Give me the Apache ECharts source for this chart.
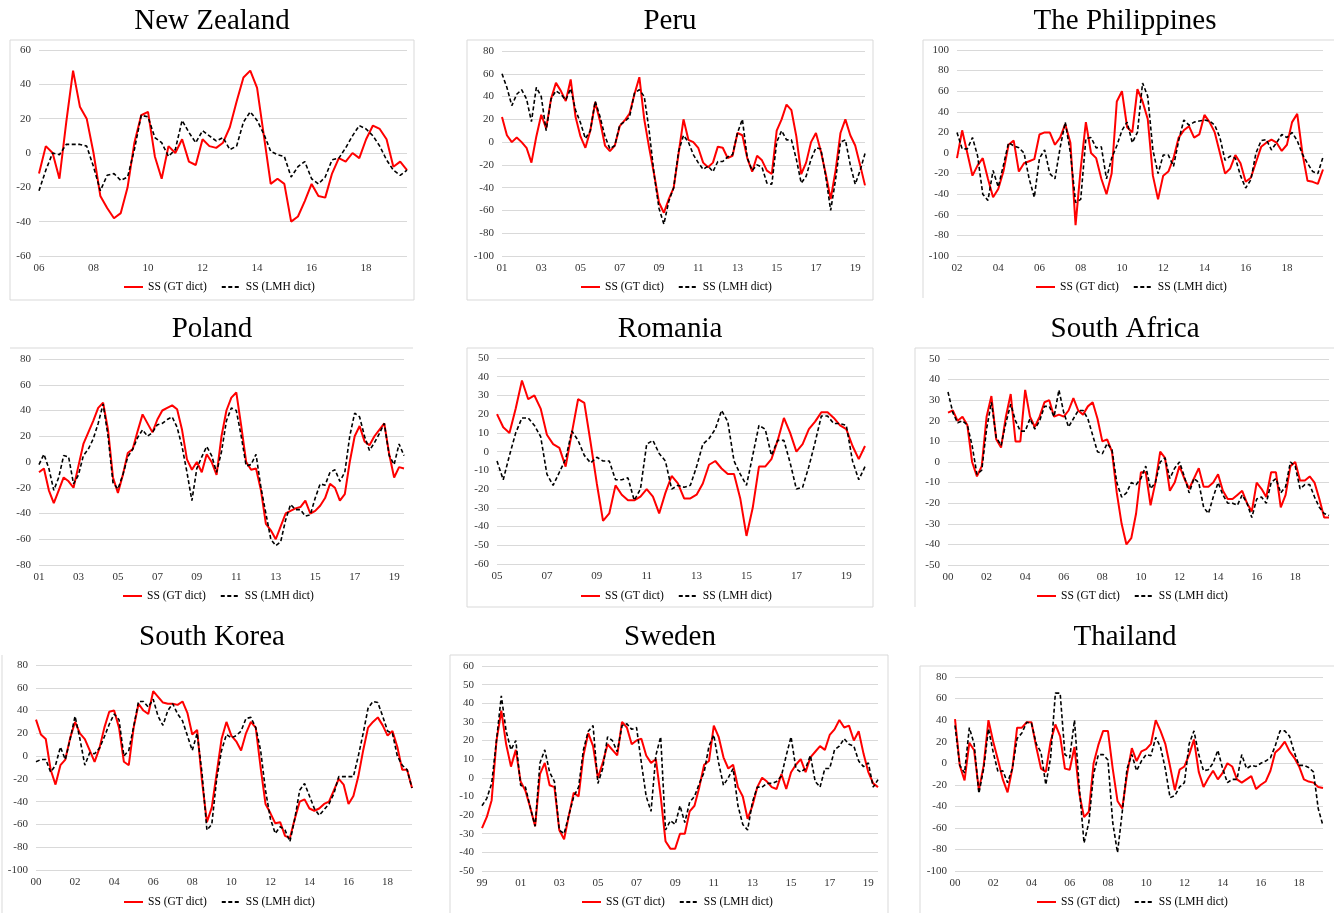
<!DOCTYPE html>
<html>
<head>
<meta charset="utf-8">
<title>SS (GT dict) vs SS (LMH dict)</title>
<script src="https://cdn.jsdelivr.net/npm/echarts/dist/echarts.min.js"></script>
<style>
  html, body { margin: 0; padding: 0; background: #fff; }
  #chart { width: 1334px; height: 913px; }
</style>
</head>
<body>
<div id="chart"></div>
<script>
// quarterly readings, first value is Q1 of the start year
const seriesNames = ['SS (GT dict)', 'SS (LMH dict)'];

const nzStart = 2006;
const nzGT = [-12, 4, 0, -15, 18, 48, 27, 20, 0, -25, -32, -38, -35, -20, 6, 22, 24, -2, -15, 4,
  0, 8, -5, -7, 8, 4, 3, 6, 15, 30, 44, 48, 38, 10, -18, -15, -18, -40, -37, -28,
  -18, -25, -26, -12, -3, -5, 0, -3, 8, 16, 14, 8, -8, -5, -10];
const nzLMH = [-22, -10, 0, -1, 5, 5, 5, 4, -8, -22, -13, -12, -16, -14, 2, 22, 21, 9, 6, -2,
  2, 19, 12, 6, 13, 10, 7, 9, 2, 4, 18, 24, 19, 11, 1, -1, -2, -14, -8, -5,
  -15, -18, -14, -4, -3, 3, 10, 16, 14, 10, 4, -4, -10, -13, -10];
const nzY = [-60, 60, 20];

const peStart = 2001;
const peGT = [22, 6, 0, 4, 0, -5, -18, 5, 24, 12, 38, 52, 45, 36, 55, 22, 5, -5, 10, 35,
  18, -3, -8, -3, 14, 19, 25, 42, 57, 20, -5, -28, -53, -62, -50, -40, -10, 20, 2, 0,
  -5, -18, -22, -18, -4, -5, -14, -12, 8, 6, -14, -26, -12, -16, -25, -28, 10, 20, 33, 28,
  5, -28, -18, 0, 8, -8, -28, -50, -25, 8, 20, 6, -3, -20, -38];
const peLMH = [60, 48, 32, 42, 46, 38, 18, 48, 40, 10, 38, 45, 42, 37, 47, 28, 17, 3, 10, 36,
  22, 5, -6, -3, 15, 18, 22, 43, 46, 40, 10, -28, -58, -72, -52, -40, -8, 6, 0, -11,
  -18, -24, -21, -26, -17, -17, -13, -11, 8, 20, -14, -25, -20, -22, -36, -37, 0, 10, 2, 2,
  -15, -36, -30, -15, -5, -6, -30, -60, -33, 0, 2, -20, -37, -25, -10];
const peY = [-100, 80, 20];

const phStart = 2002;
const phGT = [-5, 22, 0, -22, -12, -5, -25, -43, -35, -18, 8, 12, -18, -10, -8, -6, 18, 20, 20, 8,
  15, 28, 10, -70, -15, 30, 0, -5, -25, -40, -20, 50, 60, 25, 20, 62, 50, 33, -22, -45,
  -22, -18, -5, 15, 22, 26, 15, 18, 37, 30, 20, 0, -20, -15, -2, -10, -28, -24, -9, 6,
  10, 13, 10, 2, 8, 30, 38, 0, -27, -28, -30, -16];
const phLMH = [20, 4, 4, 15, -3, -40, -46, -17, -33, -12, 10, 7, 5, 0, -25, -43, -5, 3, -20, -25,
  5, 30, 0, -48, -45, 14, 15, 5, 6, -25, -5, 7, 22, 30, 10, 20, 68, 55, 3, -20,
  -2, -2, -13, 12, 32, 27, 30, 31, 32, 31, 27, 15, -7, -3, -5, -22, -34, -26, 0, 12,
  13, 3, 10, 18, 15, 20, 12, -1, -10, -18, -20, -4];
const phY = [-100, 100, 20];

const plStart = 2001;
const plGT = [-8, -5, -22, -32, -22, -12, -15, -20, -3, 14, 23, 32, 42, 46, 25, -12, -24, -10, 7, 10,
  24, 37, 30, 23, 33, 40, 42, 44, 41, 25, 2, -6, 0, -8, 6, 0, -10, 20, 40, 50,
  54, 28, 0, -6, -5, -22, -48, -53, -60, -50, -40, -38, -36, -35, -30, -40, -38, -34, -28, -17,
  -20, -30, -25, 0, 20, 28, 16, 13, 20, 25, 30, 6, -12, -4, -5];
const plLMH = [-2, 6, -5, -22, -12, 5, 4, -17, -10, 5, 10, 18, 30, 45, 20, -16, -21, -10, 4, 10,
  19, 25, 20, 23, 29, 30, 33, 35, 27, 12, -8, -30, -5, 4, 12, 5, -8, 8, 32, 42,
  40, 20, -3, -2, 6, -20, -40, -60, -65, -62, -45, -33, -37, -37, -42, -41, -28, -17, -18, -8,
  -6, -15, -8, 20, 38, 35, 20, 9, 15, 22, 30, 5, -2, 14, 5];
const plY = [-80, 80, 20];

const roStart = 2005;
const roGT = [20, 13, 10, 23, 38, 28, 30, 23, 9, 4, 2, -8, 10, 28, 26, 5, -17, -37, -33, -18,
  -23, -26, -26, -24, -20, -24, -33, -22, -13, -17, -25, -25, -23, -17, -7, -5, -9, -12, -12, -25,
  -45, -30, -8, -8, -4, 6, 18, 10, 0, 4, 12, 16, 21, 21, 18, 14, 12, 3, -4, 3];
const roLMH = [-5, -15, -2, 10, 18, 18, 14, 8, -12, -18, -11, -4, 11, 6, -2, -6, -3, -5, -5, -15,
  -15, -14, -26, -20, 4, 6, -1, -5, -20, -18, -19, -18, -8, 4, 7, 12, 22, 16, -5, -12,
  -18, -2, 14, 12, -2, 6, 6, -6, -20, -19, -8, 5, 19, 19, 15, 15, 14, -5, -15, -8];
const roY = [-60, 50, 10];

const zaStart = 2000;
const zaGT = [24, 25, 20, 22, 18, 0, -7, -2, 22, 32, 11, 7, 22, 33, 10, 10, 35, 22, 17, 22,
  29, 30, 22, 23, 22, 25, 31, 25, 23, 27, 29, 21, 10, 11, 5, -15, -30, -40, -37, -25,
  -5, -5, -21, -10, 5, 2, -14, -10, -2, -8, -13, -8, -3, -12, -12, -10, -6, -14, -18, -18,
  -16, -14, -20, -24, -10, -13, -17, -5, -5, -22, -16, -2, 0, -9, -9, -7, -10, -18, -27, -27];
const zaLMH = [34, 24, 19, 20, 18, 8, -6, -4, 16, 29, 12, 8, 19, 28, 20, 15, 15, 21, 16, 20,
  27, 27, 22, 35, 24, 17, 21, 25, 25, 21, 13, 5, 4, 9, 6, -10, -17, -15, -10, -11,
  -8, -2, -13, -10, 0, 2, -8, -3, 0, -7, -15, -8, -10, -22, -25, -17, -10, -16, -20, -20,
  -21, -16, -20, -27, -18, -17, -20, -10, -8, -15, -12, 0, -2, -13, -11, -11, -17, -22, -25, -26];
const zaY = [-50, 50, 10];

const krStart = 2000;
const krGT = [32, 19, 15, -12, -25, -8, -3, 16, 30, 20, 15, 5, -5, 7, 25, 39, 40, 25, -5, -8,
  25, 46, 40, 37, 57, 52, 47, 46, 46, 45, 48, 38, 19, 23, -22, -58, -45, -15, 15, 30,
  18, 13, 5, 20, 30, 25, -10, -42, -50, -59, -58, -70, -72, -55, -40, -38, -46, -48, -46, -42,
  -40, -30, -20, -25, -42, -35, -18, 5, 25, 30, 34, 27, 18, 22, 8, -12, -12, -28];
const krLMH = [-5, -3, -3, -14, -8, 8, -3, 15, 35, 15, -8, 3, 2, 7, 17, 28, 37, 32, 0, 5,
  26, 48, 48, 43, 50, 35, 27, 40, 46, 37, 31, 18, 5, 20, -15, -65, -60, -20, 5, 19,
  16, 18, 22, 33, 34, 25, 5, -30, -55, -68, -62, -65, -75, -55, -30, -24, -35, -46, -52, -47,
  -42, -33, -18, -18, -18, -18, 0, 20, 42, 48, 47, 35, 22, 20, 0, -8, -12, -28];
const krY = [-100, 80, 20];

const seStart = 1999;
const seGT = [-27, -21, -12, 20, 36, 18, 6, 15, -2, -7, -16, -26, 2, 8, -4, -5, -28, -33, -20, -8,
  -10, 12, 24, 17, 0, 8, 18, 15, 12, 30, 27, 18, 20, 21, 12, 8, 10, -10, -34, -38,
  -38, -30, -30, -18, -15, -5, 7, 9, 28, 22, 11, 5, 7, -5, -10, -22, -15, -5, 0, -2,
  -5, -6, 2, -6, 3, 7, 10, 3, 11, 14, 17, 15, 23, 26, 31, 27, 28, 20, 25, 13,
  3, -3, -5];
const seLMH = [-15, -11, -3, 20, 44, 25, 15, 20, -4, -5, -16, -26, 8, 15, 3, -2, -28, -30, -20, -10,
  -5, 15, 25, 28, -3, 5, 22, 20, 14, 28, 29, 26, 27, 8, -10, -18, 12, 22, -28, -23,
  -25, -15, -24, -13, -10, -3, 3, 17, 23, 8, -4, 0, 5, -15, -25, -28, -13, -5, -5, -3,
  -3, -2, 1, 12, 22, 5, 3, 5, 12, -2, -5, 5, 5, 15, 17, 21, 18, 17, 9, 6,
  8, -5, -1];
const seY = [-50, 60, 10];

const thStart = 2000;
const thGT = [41, -2, -16, 19, 12, -25, -2, 40, 20, 3, -15, -27, -5, 33, 33, 38, 38, 15, -5, -8,
  20, 36, 25, -5, -6, 15, -28, -50, -45, 0, 17, 30, 30, -5, -35, -42, -10, 14, 2, 11,
  13, 18, 40, 30, 18, -3, -25, -6, -3, 8, 22, -8, -22, -14, -7, -15, -9, 0, -3, -15,
  -18, -15, -12, -24, -20, -17, -7, 10, 14, 20, 11, 5, -3, -15, -17, -18, -22, -23];
const thLMH = [35, -2, -9, 33, 18, -28, -5, 32, 10, -8, -7, -18, -5, 23, 28, 38, 37, 18, 10, -20,
  5, 65, 65, 8, 5, 40, -22, -74, -55, -10, 8, 8, 3, -55, -83, -45, -5, 8, -7, 2,
  8, 7, 24, 15, -5, -32, -30, -22, -18, 18, 30, 8, -7, -6, 0, 12, -5, -18, -15, -15,
  8, -5, -2, -3, 0, 2, 5, 16, 30, 30, 25, 10, -2, -2, -4, -8, -42, -58];
const thY = [-100, 80, 20];

// layout: grid [left, top, width, height], title centre x / top, legend left / top
const panels = [
  { name: 'New Zealand', start: nzStart, gt: nzGT, lmh: nzLMH, y: nzY, grid: [39, 50, 368, 206], tx: 212, ty: 7, lx: 123, ly: 281 },
  { name: 'Peru', start: peStart, gt: peGT, lmh: peLMH, y: peY, grid: [502, 51, 363, 205], tx: 670, ty: 7, lx: 580, ly: 281 },
  { name: 'The Philippines', start: phStart, gt: phGT, lmh: phLMH, y: phY, grid: [957, 50, 366, 206], tx: 1125, ty: 7, lx: 1035, ly: 281 },
  { name: 'Poland', start: plStart, gt: plGT, lmh: plLMH, y: plY, grid: [39, 359, 365, 206], tx: 212, ty: 315, lx: 122, ly: 590 },
  { name: 'Romania', start: roStart, gt: roGT, lmh: roLMH, y: roY, grid: [497, 358, 368, 206], tx: 670, ty: 315, lx: 580, ly: 590 },
  { name: 'South Africa', start: zaStart, gt: zaGT, lmh: zaLMH, y: zaY, grid: [948, 359, 381, 206], tx: 1125, ty: 315, lx: 1036, ly: 590 },
  { name: 'South Korea', start: krStart, gt: krGT, lmh: krLMH, y: krY, grid: [36, 665, 376, 205], tx: 212, ty: 623, lx: 123, ly: 896 },
  { name: 'Sweden', start: seStart, gt: seGT, lmh: seLMH, y: seY, grid: [482, 666, 396, 205], tx: 670, ty: 623, lx: 581, ly: 896 },
  { name: 'Thailand', start: thStart, gt: thGT, lmh: thLMH, y: thY, grid: [955, 677, 368, 194], tx: 1125, ty: 623, lx: 1036, ly: 896 }
];

// light frames left over from the original chart boxes
const frames = [
  [[10, 300], [10, 40], [414, 40], [414, 300], [10, 300]],
  [[467, 300], [467, 40], [873, 40], [873, 300], [467, 300]],
  [[923, 298], [923, 40], [1334, 40]],
  [[10, 348], [413, 348]],
  [[467, 607], [467, 348], [873, 348], [873, 607], [467, 607]],
  [[915, 607], [915, 348], [1334, 348]],
  [[2, 913], [2, 655]],
  [[450, 913], [450, 655], [888, 655], [888, 913]],
  [[920, 913], [920, 666], [1334, 666]]
];

const serif = '"Liberation Serif", "Times New Roman", serif';

function quarters(start, n) {
  const out = [];
  for (let k = 0; k < n; k++) {
    out.push((start + Math.floor(k / 4)) + 'Q' + (k % 4 + 1));
  }
  return out;
}

const option = {
  animation: false,
  backgroundColor: '#fff',
  title: [],
  legend: [],
  grid: [],
  xAxis: [],
  yAxis: [],
  series: [],
  graphic: frames.map(pts => ({
    type: 'polyline',
    silent: true,
    shape: { points: pts },
    style: { stroke: '#d9d9d9', lineWidth: 1, fill: null }
  }))
};

panels.forEach((p, i) => {
  option.title.push({
    text: p.name,
    left: p.tx,
    top: p.ty,
    textAlign: 'center',
    padding: 0,
    textStyle: { fontFamily: serif, fontSize: 29, fontWeight: 'normal', color: '#000' }
  });
  option.legend.push({
    data: seriesNames,
    left: p.lx,
    top: p.ly,
    padding: 0,
    itemWidth: 19,
    itemHeight: 10,
    itemGap: 14,
    selectedMode: false,
    // hide the marker dot, keep only the line sample
    itemStyle: { opacity: 0 },
    textStyle: { fontFamily: serif, fontSize: 11.5, color: '#000' }
  });
  option.grid.push({ left: p.grid[0], top: p.grid[1], width: p.grid[2], height: p.grid[3] });
  option.xAxis.push({
    gridIndex: i,
    type: 'category',
    boundaryGap: false,
    data: quarters(p.start, p.gt.length),
    axisLine: { show: false },
    axisTick: { show: false },
    axisLabel: {
      interval: (idx) => idx % 8 === 0,
      formatter: (v) => v.slice(2, 4),
      margin: 7,
      fontFamily: serif,
      fontSize: 11,
      color: '#333'
    }
  });
  option.yAxis.push({
    gridIndex: i,
    type: 'value',
    min: p.y[0],
    max: p.y[1],
    interval: p.y[2],
    axisLine: { show: false },
    axisTick: { show: false },
    splitLine: { lineStyle: { color: '#d9d9d9', width: 1 } },
    axisLabel: { margin: 8, fontFamily: serif, fontSize: 11, color: '#333' }
  });
  option.series.push({
    name: seriesNames[0],
    type: 'line',
    xAxisIndex: i,
    yAxisIndex: i,
    data: p.gt,
    symbol: 'none',
    lineStyle: { color: '#ff0000', width: 2 },
    itemStyle: { color: '#ff0000' }
  });
  option.series.push({
    name: seriesNames[1],
    type: 'line',
    xAxisIndex: i,
    yAxisIndex: i,
    data: p.lmh,
    symbol: 'none',
    lineStyle: { color: '#000', width: 1.6, type: [4, 2.5] },
    itemStyle: { color: '#000' }
  });
});

const myChart = echarts.init(document.getElementById('chart'));
myChart.setOption(option);
window.addEventListener('resize', () => {
  myChart.resize();
});
</script>
</body>
</html>
